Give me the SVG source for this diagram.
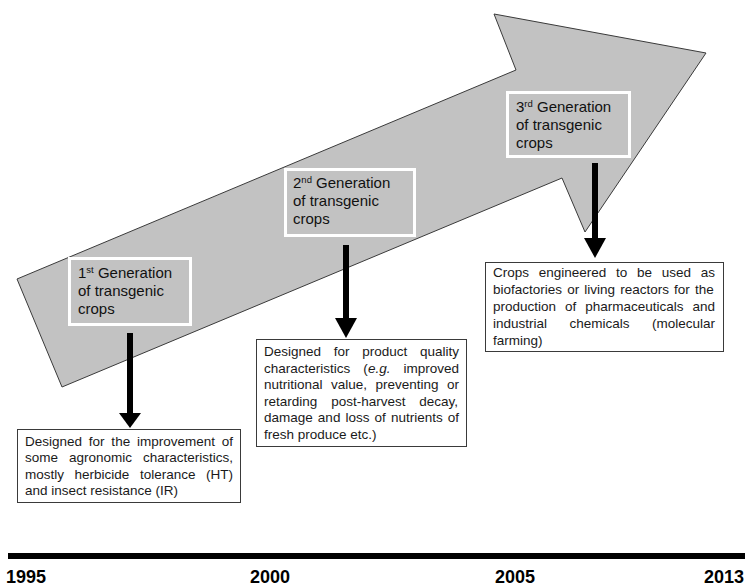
<svg xmlns="http://www.w3.org/2000/svg" width="745" height="586" viewBox="0 0 745 586">
<style>
.gen{fill:#c2c2c2;stroke:#ffffff;stroke-width:3}
.gt{font-family:"Liberation Sans",Arial,sans-serif;font-size:15px;fill:#111}
.sup{font-size:9.5px}
.desc{fill:#ffffff;stroke:#3a3a3a;stroke-width:1}
.dt{font-family:"Liberation Sans",Arial,sans-serif;font-size:13.5px;fill:#1a1a1a}
.yr{font-family:"Liberation Sans",Arial,sans-serif;font-size:18px;font-weight:bold;fill:#000}
.conn{fill:#000;stroke:none}
</style>
<g id="big-arrow">
<polygon points="17,279 516,70 494,14 706,53 585,232 562,178 62,387" fill="#c2c2c2" stroke="#3a3a3a" stroke-width="1"/>
</g>
<g id="gen1">
<rect class="gen" x="69.5" y="258.5" width="121" height="66"/>
<text class="gt" x="78" y="278">1<tspan class="sup" dy="-5">st</tspan><tspan dy="5"> Generation</tspan></text>
<text class="gt" x="78" y="296">of transgenic</text>
<text class="gt" x="78" y="314">crops</text>
</g>
<g id="gen2">
<rect class="gen" x="285.5" y="169.5" width="129" height="66"/>
<text class="gt" x="293" y="188">2<tspan class="sup" dy="-5">nd</tspan><tspan dy="5"> Generation</tspan></text>
<text class="gt" x="293" y="206">of transgenic</text>
<text class="gt" x="293" y="224">crops</text>
</g>
<g id="gen3">
<rect class="gen" x="507.5" y="92.5" width="122" height="64"/>
<text class="gt" x="516" y="112">3<tspan class="sup" dy="-5">rd</tspan><tspan dy="5"> Generation</tspan></text>
<text class="gt" x="516" y="130">of transgenic</text>
<text class="gt" x="516" y="148">crops</text>
</g>
<g id="connectors">
<rect class="conn" x="127" y="333" width="6" height="82"/>
<polygon class="conn" points="119,413 141,413 130,428"/>
<rect class="conn" x="343" y="245" width="6" height="75"/>
<polygon class="conn" points="335,318 357,318 346,338"/>
<rect class="conn" x="592" y="163" width="6" height="77"/>
<polygon class="conn" points="584,238 606,238 595,258"/>
</g>
<g id="desc1">
<rect class="desc" x="17.5" y="429.5" width="223" height="73"/>
<text class="dt" x="25" y="446" word-spacing="3.04">Designed for the improvement of</text>
<text class="dt" x="25" y="462" word-spacing="7.23">some agronomic characteristics,</text>
<text class="dt" x="25" y="478.5" word-spacing="6.82">mostly herbicide tolerance (HT)</text>
<text class="dt" x="25" y="495">and insect resistance (IR)</text>
</g>
<g id="desc2">
<rect class="desc" x="256.5" y="339.5" width="210" height="107"/>
<text class="dt" x="264" y="356" word-spacing="8.97">Designed for product quality</text>
<text class="dt" x="264" y="372.5" word-spacing="9.35">characteristics (<tspan font-style="italic">e.g.</tspan> improved</text>
<text class="dt" x="264" y="389" word-spacing="4.73">nutritional value, preventing or</text>
<text class="dt" x="264" y="405.5" word-spacing="10.1">retarding post-harvest decay,</text>
<text class="dt" x="264" y="422" word-spacing="1.33">damage and loss of nutrients of</text>
<text class="dt" x="264" y="438.5">fresh produce etc.)</text>
</g>
<g id="desc3">
<rect class="desc" x="485.5" y="262.5" width="238" height="89"/>
<text class="dt" x="493" y="277" word-spacing="5.98">Crops engineered to be used as</text>
<text class="dt" x="493" y="294" word-spacing="1.37">biofactories or living reactors for the</text>
<text class="dt" x="493" y="311" word-spacing="5.23">production of pharmaceuticals and</text>
<text class="dt" x="493" y="328" word-spacing="18.7">industrial chemicals (molecular</text>
<text class="dt" x="493" y="345">farming)</text>
</g>
<g id="timeline">
<rect x="8" y="553" width="737" height="6" fill="#000"/>
<text class="yr" x="6" y="583">1995</text>
<text class="yr" x="250" y="583">2000</text>
<text class="yr" x="495" y="583">2005</text>
<text class="yr" x="744" y="583" text-anchor="end">2013</text>
</g>
</svg>
